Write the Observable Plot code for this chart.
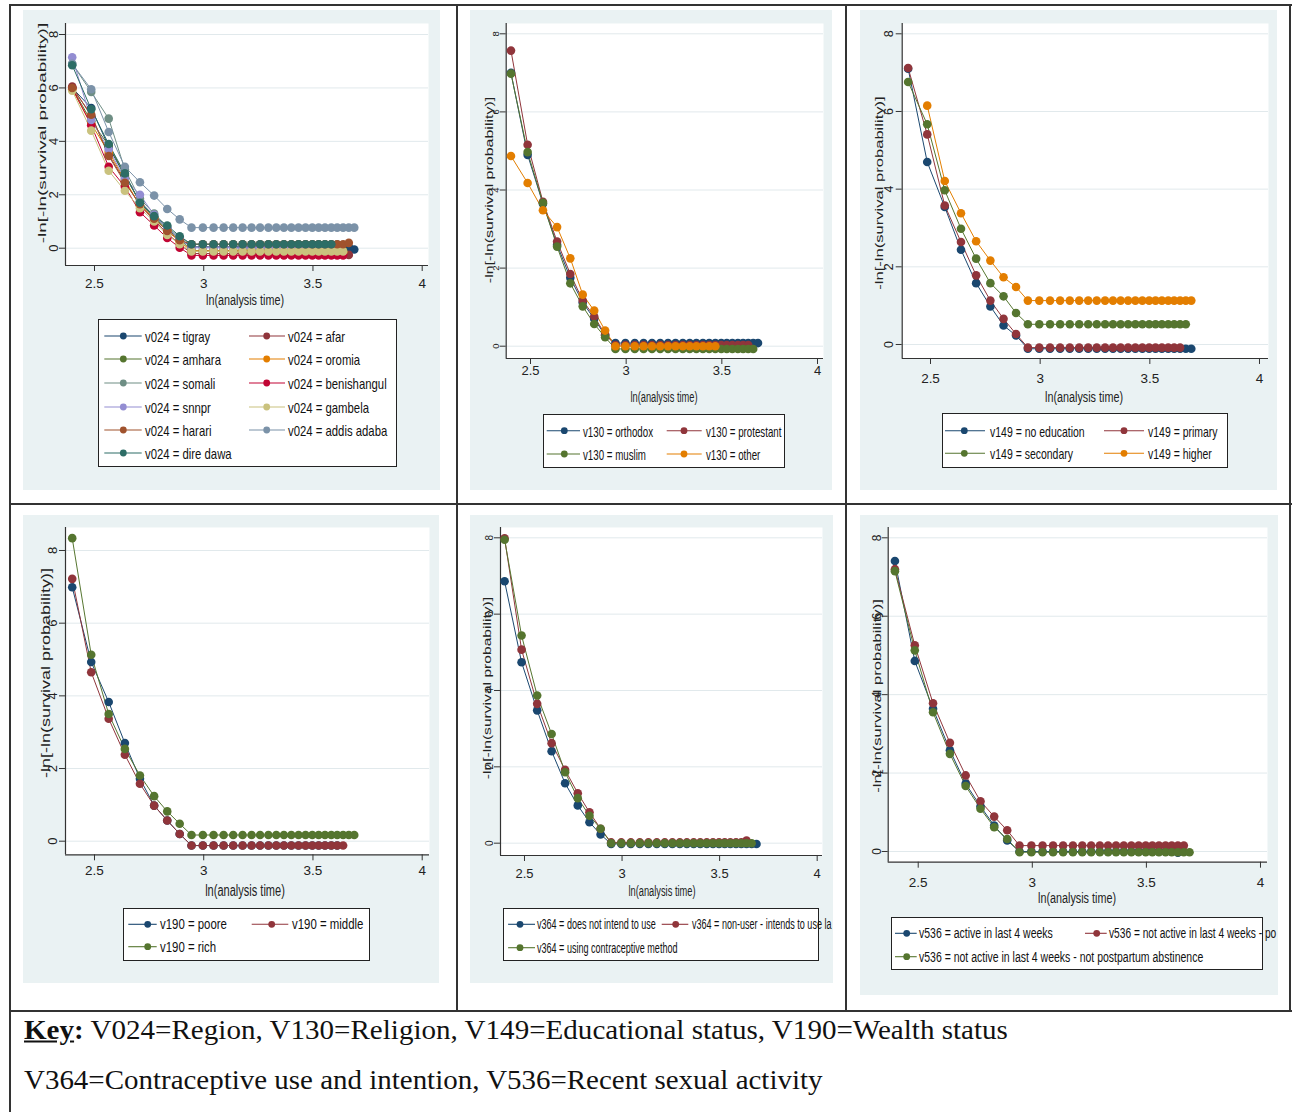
<!DOCTYPE html>
<html><head><meta charset="utf-8">
<script src="https://cdn.jsdelivr.net/npm/d3@7"></script>
<script src="https://cdn.jsdelivr.net/npm/@observablehq/plot@0.6"></script>
<style>
body{margin:0;background:#fff;}
#page{position:relative;width:1292px;height:1112px;overflow:hidden;background:#fff;font-family:"Liberation Sans Narrow","Liberation Sans",Arial,sans-serif;color:#111;}
.bg{position:absolute;background:#eaf2f3;overflow:hidden;}
.abs{position:absolute;white-space:nowrap;}
.line{position:absolute;background:#333;}
.key{position:absolute;white-space:nowrap;font-family:"Liberation Serif","Times New Roman",serif;font-size:27px;color:#111;transform-origin:left center;}
</style></head><body><div id="page"></div>
<script>
// ---------- shared axis data ----------
const lnTime = [2.398,2.485,2.565,2.639,2.708,2.773,2.833,2.890,2.944,2.996,3.045,3.091,3.135,3.178,3.219,3.258,3.296,3.332,3.367,3.401,3.434,3.466,3.497,3.526,3.555,3.584,3.611,3.638,3.664,3.689];
const xTickValues = [2.5, 3, 3.5, 4];
const xTickLabels = ["2.5", "3", "3.5", "4"];
const yTickValues = [0, 2, 4, 6, 8];
const xTitleText = "ln(analysis time)";
const yTitleText = "-ln[-ln(survival probability)]";

// ---------- panel 1: v024 region ----------
const regionLabels = ["v024 = tigray","v024 = afar","v024 = amhara","v024 = oromia","v024 = somali","v024 = benishangul","v024 = snnpr","v024 = gambela","v024 = harari","v024 = addis adaba","v024 = dire dawa"];
const regionColors = ["#1a476f","#90353b","#55752f","#e37e00","#6e8e84","#c10534","#938dd2","#cac27e","#a0522d","#7b92a8","#2d6d66"];
const tigray = [6.00,5.25,3.80,2.70,1.75,1.20,0.75,0.35, 0.05,0.05,0.05,0.05,0.05,0.05,0.05,0.05,0.05,0.05,0.05,0.05,0.05,0.05,0.05,0.05,0.05,0.05,0.05,0.05,0.05,-0.05];
const afar = [6.05,4.95,3.50,2.50,1.60,1.05,0.55,0.15, -0.20,-0.20,-0.20,-0.20,-0.20,-0.20,-0.20,-0.20,-0.20,-0.20,-0.20,-0.20,-0.20,-0.20,-0.20,-0.20,-0.20,-0.20,-0.20,-0.20,-0.25,null];
const amhara = [6.00,4.75,3.85,2.75,1.70,1.15,0.70,0.35, -0.10,-0.10,-0.10,-0.10,-0.10,-0.10,-0.10,-0.10,-0.10,-0.10,-0.10,-0.10,-0.10,-0.10,-0.10,-0.10,-0.10,-0.10,-0.10,-0.10,null,null];
const oromia = [5.95,4.65,3.60,2.55,1.60,1.10,0.65,0.25, -0.10,-0.10,-0.10,-0.10,-0.10,-0.10,-0.10,-0.10,-0.10,-0.10,-0.10,-0.10,-0.10,-0.10,-0.10,-0.10,-0.10,-0.10,-0.10,-0.15,null,null];
const somali = [6.90,5.85,4.85,2.95,1.85,1.30,0.80,0.40, 0.15,0.15,0.15,0.15,0.15,0.15,0.15,0.15,0.15,0.15,0.15,0.15,0.15,0.15,0.15,0.15,0.15,0.15,0.15,null,null,null];
const benishangul = [6.00,4.60,3.05,2.30,1.35,0.85,0.38,0.02, -0.27,-0.27,-0.27,-0.27,-0.27,-0.27,-0.27,-0.27,-0.27,-0.27,-0.27,-0.27,-0.27,-0.27,-0.27,-0.27,-0.27,-0.27,-0.27,-0.27,null,null];
const snnpr = [7.15,4.80,3.70,2.60,2.00,1.25,0.75,0.35, 0.02,0.02,0.02,0.02,0.02,0.02,0.02,0.02,0.02,0.02,0.02,0.02,0.02,0.02,0.02,0.02,0.02,0.02,0.02,null,null,null];
const gambela = [5.90,4.40,2.90,2.15,1.50,1.00,0.50,0.15, -0.12,-0.12,-0.12,-0.12,-0.12,-0.12,-0.12,-0.12,-0.12,-0.12,-0.12,-0.12,-0.12,-0.12,-0.12,-0.12,-0.12,-0.12,-0.12,-0.12,null,null];
const harari = [6.00,5.00,3.45,2.45,1.65,1.10,0.65,0.30, 0.15,0.15,0.15,0.15,0.15,0.15,0.15,0.15,0.15,0.15,0.15,0.15,0.15,0.15,0.15,0.15,0.15,0.15,0.15,0.15,0.20,null];
const addisAdaba = [6.90,5.95,4.35,3.05,2.47,1.97,1.47,1.08, 0.77,0.77,0.77,0.77,0.77,0.77,0.77,0.77,0.77,0.77,0.77,0.77,0.77,0.77,0.77,0.77,0.77,0.77,0.77,0.77,0.77,0.77];
const direDawa = [6.85,5.20,3.90,2.80,1.70,1.20,0.85,0.45, 0.15,0.15,0.15,0.15,0.15,0.15,0.15,0.15,0.15,0.15,0.15,0.15,0.15,0.15,0.15,0.15,0.15,0.15,null,null,null,null];

// ---------- panel 2: v130 religion ----------
const religionLabels = ["v130 = orthodox","v130 = protestant","v130 = muslim","v130 = other"];
const religionColors = ["#1a476f","#90353b","#55752f","#e37e00"];
const orthodox = [7.00,4.90,3.65,2.60,1.75,1.12,0.70,0.28, 0.08,0.08,0.08,0.08,0.08,0.08,0.08,0.08,0.08,0.08,0.08,0.08,0.08,0.08,0.08,0.08,0.08,0.08,0.08,0.08,0.08,0.08];
const protestant = [7.57,5.16,3.70,2.68,1.85,1.17,0.76,0.30, 0.03,0.03,0.03,0.03,0.03,0.03,0.03,0.03,0.03,0.03,0.03,0.03,0.03,0.03,0.03,0.03,0.03,0.03,0.03,0.03,null,null];
const muslim = [6.98,4.97,3.67,2.55,1.61,1.02,0.57,0.23, -0.07,-0.07,-0.07,-0.07,-0.07,-0.07,-0.07,-0.07,-0.07,-0.07,-0.07,-0.07,-0.07,-0.07,-0.07,-0.07,-0.07,-0.07,-0.07,-0.07,-0.07,null];
const otherReligion = [4.87,4.18,3.48,3.05,2.25,1.32,0.91,0.40, 0.00,0.00,0.00,0.00,0.00,0.00,0.00,0.00,0.00,0.00,0.00,0.00,0.00,0.00,null,null,null,null,null,null,null,null];

// ---------- panel 3: v149 education ----------
const educationLabels = ["v149 = no education","v149 = primary","v149 = secondary","v149 = higher"];
const educationColors = ["#1a476f","#90353b","#55752f","#e37e00"];
const noEducation = [7.10,4.70,3.54,2.44,1.58,0.98,0.49,0.23, -0.11,-0.11,-0.11,-0.11,-0.11,-0.11,-0.11,-0.11,-0.11,-0.11,-0.11,-0.11,-0.11,-0.11,-0.11,-0.11,-0.11,-0.11,-0.11,-0.11,-0.11,-0.11];
const primary = [7.12,5.41,3.58,2.64,1.78,1.13,0.66,0.27, -0.08,-0.08,-0.08,-0.08,-0.08,-0.08,-0.08,-0.08,-0.08,-0.08,-0.08,-0.08,-0.08,-0.08,-0.08,-0.08,-0.08,-0.08,-0.08,-0.08,null,null];
const secondary = [6.76,5.67,3.97,2.98,2.21,1.58,1.24,0.81, 0.52,0.52,0.52,0.52,0.52,0.52,0.52,0.52,0.52,0.52,0.52,0.52,0.52,0.52,0.52,0.52,0.52,0.52,0.52,0.52,0.52,null];
const higher = [null,6.15,4.21,3.38,2.66,2.16,1.73,1.48, 1.13,1.13,1.13,1.13,1.13,1.13,1.13,1.13,1.13,1.13,1.13,1.13,1.13,1.13,1.13,1.13,1.13,1.13,1.13,1.13,1.13,1.13];

// ---------- panel 4: v190 wealth ----------
const wealthLabels = ["v190 = poore","v190 = middle","v190 = rich"];
const wealthColors = ["#1a476f","#90353b","#55752f"];
const poorer = [6.99,4.93,3.83,2.70,1.72,0.98,0.57,0.20, -0.12,-0.12,-0.12,-0.12,-0.12,-0.12,-0.12,-0.12,-0.12,-0.12,-0.12,-0.12,-0.12,-0.12,-0.12,-0.12,-0.12,-0.12,-0.12,null,null,null];
const middle = [7.22,4.65,3.37,2.38,1.58,0.98,0.57,0.20, -0.12,-0.12,-0.12,-0.12,-0.12,-0.12,-0.12,-0.12,-0.12,-0.12,-0.12,-0.12,-0.12,-0.12,-0.12,-0.12,-0.12,-0.12,-0.12,-0.12,null,null];
const rich = [8.34,5.13,3.50,2.54,1.81,1.24,0.82,0.48, 0.17,0.17,0.17,0.17,0.17,0.17,0.17,0.17,0.17,0.17,0.17,0.17,0.17,0.17,0.17,0.17,0.17,0.17,0.17,0.17,0.17,0.17];

// ---------- panel 5: v364 contraception ----------
const contraLabels = ["v364 = does not intend to use","v364 = non-user - intends to use la","v364 = using contraceptive method"];
const contraColors = ["#1a476f","#90353b","#55752f"];
const notIntend = [6.86,4.74,3.48,2.41,1.57,0.99,0.55,0.23, -0.02,-0.02,-0.02,-0.02,-0.02,-0.02,-0.02,-0.02,-0.02,-0.02,-0.02,-0.02,-0.02,-0.02,-0.02,-0.02,-0.02,-0.02,-0.02,-0.02,-0.02,-0.02];
const intendsLater = [7.99,5.07,3.65,2.62,1.92,1.31,0.81,0.38, 0.02,0.02,0.02,0.02,0.02,0.02,0.02,0.02,0.02,0.02,0.02,0.02,0.02,0.02,0.02,0.02,0.02,0.02,0.02,0.07,null,null];
const usingMethod = [7.95,5.44,3.87,2.86,1.86,1.18,0.72,0.38, 0.00,0.00,0.00,0.00,0.00,0.00,0.00,0.00,0.00,0.00,0.00,0.00,0.00,0.00,0.00,0.00,0.00,0.00,0.00,0.00,0.00,null];

// ---------- panel 6: v536 sexual activity ----------
const activityLabels = ["v536 = active in last 4 weeks","v536 = not active in last 4 weeks - po","v536 = not active in last 4 weeks - not postpartum abstinence"];
const activityColors = ["#1a476f","#90353b","#55752f"];
const activeLast4 = [7.41,4.86,3.64,2.58,1.73,1.15,0.66,0.28, 0.00,0.00,0.00,0.00,0.00,0.00,0.00,0.00,0.00,0.00,0.00,0.00,0.00,0.00,0.00,0.00,0.00,0.00,0.00,-0.03,null,null];
const postpartum = [7.20,5.26,3.78,2.77,1.94,1.28,0.89,0.54, 0.15,0.15,0.15,0.15,0.15,0.15,0.15,0.15,0.15,0.15,0.15,0.15,0.15,0.15,0.15,0.15,0.15,0.15,0.15,0.15,0.15,null];
const notPostpartum = [7.15,5.13,3.55,2.49,1.67,1.09,0.62,0.32, -0.02,-0.02,-0.02,-0.02,-0.02,-0.02,-0.02,-0.02,-0.02,-0.02,-0.02,-0.02,-0.02,-0.02,-0.02,-0.02,-0.02,-0.02,-0.02,-0.02,-0.02,-0.02];

// ---------- key text ----------
const keyLine1Rest = " V024=Region, V130=Religion, V149=Educational status, V190=Wealth status";
const keyLine2 = "V364=Contraceptive use and intention, V536=Recent sexual activity";

// ---------- layout (page pixel geometry) ----------
const panels = [
 {labels: regionLabels, colors: regionColors, series: [tigray,afar,amhara,oromia,somali,benishangul,snnpr,gambela,harari,addisAdaba,direDawa],
  bg:[23,10,440,490], plot:[65,23,428,265], xcal:[94,421.7], ycal:[247.7,34], xTickOff:18, yTickOff:12.3, xTickFont:13.5, yTickFont:13,
  xTitle:[245,300,78], xTitleFont:15.5, yTitle:[42,133,220], yTitleFont:11.5,
  legend:{box:[98,319,397,467], rows:[336,359,383,407,430,453], cols:[[104.3,141.7,123.3,145],[249,285,266.7,288]], fit:65, font:15}},
 {labels: religionLabels, colors: religionColors, series: [orthodox,protestant,muslim,otherReligion],
  bg:[470,10,832,490], plot:[505.7,23,823,358], xcal:[530,817], ycal:[345.7,33.3], xTickOff:12, yTickOff:10.7, xTickFont:13, yTickFont:9.5,
  xTitle:[664,397,67], xTitleFont:14, yTitle:[489,190,187], yTitleFont:10.5,
  legend:{box:[543.3,414,785,468.3], rows:[430.7,454], cols:[[546.7,580,564.3,583.3],[666.7,701.7,684,706]], fit:70, font:15}},
 {labels: educationLabels, colors: educationColors, series: [noEducation,primary,secondary,higher],
  bg:[860,10,1277.3,490], plot:[901.7,23,1268,358], xcal:[930,1259], ycal:[344,33.3], xTickOff:20, yTickOff:13.3, xTickFont:13.5, yTickFont:12.5,
  xTitle:[1084,397,78], xTitleFont:15.5, yTitle:[879,193,193], yTitleFont:11.5,
  legend:{box:[941.7,413.3,1227.7,468.3], rows:[430.7,453.3], cols:[[945,985,964.3,990],[1104,1144,1124,1148.3]], fit:95, font:15}},
 {labels: wealthLabels, colors: wealthColors, series: [poorer,middle,rich],
  bg:[23,515,439.3,982.7], plot:[65,527,429,854.3], xcal:[94,421.7], ycal:[840.7,550], xTickOff:15.7, yTickOff:13.3, xTickFont:13.5, yTickFont:13,
  xTitle:[245,891,80], xTitleFont:16, yTitle:[45.5,673,210], yTitleFont:12,
  legend:{box:[123.3,908.3,370,961], rows:[924.3,946.7], cols:[[128.3,156.7,147.7,160],[251.7,288.3,271.7,292.3]], fit:67, font:15.5}},
 {labels: contraLabels, colors: contraColors, series: [notIntend,intendsLater,usingMethod],
  bg:[470,515,832.7,983], plot:[500,527,822,855], xcal:[524,816.7], ycal:[842.7,537.3], xTickOff:18, yTickOff:10.7, xTickFont:13, yTickFont:10,
  xTitle:[662,891,67], xTitleFont:14, yTitle:[486.7,688,183], yTitleFont:10.5,
  legend:{box:[503.3,908.3,819.3,961], rows:[924.3,947.7], cols:[[508,535,520,537.3],[661.7,688.3,675.7,691.7]], fit:119, font:15.5}},
 {labels: activityLabels, colors: activityColors, series: [activeLast4,postpartum,notPostpartum],
  bg:[860,515,1278.3,995], plot:[887.7,527,1267,861.7], xcal:[917.7,1260], ycal:[851,537.3], xTickOff:20, yTickOff:11.7, xTickFont:13.5, yTickFont:12,
  xTitle:[1077,898,78], xTitleFont:15.5, yTitle:[876.7,696,193], yTitleFont:11,
  legend:{box:[891,916.7,1263.3,970], rows:[933.3,956.7], cols:[[895,916.7,906.7,919.3],[1085,1106.7,1096.7,1109.3]], fit:134, font:15.5}}
];

const page = document.getElementById("page");
const narrow = '"Liberation Sans Narrow","Liberation Sans",Arial,sans-serif';

function addLine(x, y, w, h) {
  const d = document.createElement("div");
  d.className = "line";
  Object.assign(d.style, {left: x + "px", top: y + "px", width: w + "px", height: h + "px"});
  page.appendChild(d);
}

function renderPanel(P) {
  const [bx0, by0, bx1, by1] = P.bg;
  const [px0, py0, px1, py1] = P.plot;
  const bw = bx1 - bx0;
  const ux = (P.xcal[1] - P.xcal[0]) / (xTickValues[3] - xTickValues[0]);
  const uy = (P.ycal[0] - P.ycal[1]) / (yTickValues[4] - yTickValues[0]);
  const xd = [xTickValues[0] - (P.xcal[0] - px0) / ux, xTickValues[0] + (px1 - P.xcal[0]) / ux];
  const yd = [-(py1 - P.ycal[0]) / uy, (P.ycal[0] - py0) / uy];

  const bg = document.createElement("div");
  bg.className = "bg";
  Object.assign(bg.style, {left: bx0 + "px", top: by0 + "px", width: bw + "px", height: (by1 - by0) + "px"});
  page.appendChild(bg);

  const rows = [];
  P.labels.forEach((name, i) => P.series[i].forEach((v, j) => {
    if (v != null) rows.push({series: name, x: lnTime[j], y: v});
  }));

  const tickSize = 6;
  const svg = Plot.plot({
    width: bw,
    height: py1 - by0 + 40,
    marginLeft: px0 - bx0,
    marginRight: bx1 - px1,
    marginTop: py0 - by0,
    marginBottom: 40,
    x: {domain: xd},
    y: {domain: yd},
    color: {domain: P.labels, range: P.colors},
    style: {background: "transparent", fontFamily: narrow, color: "#222", overflow: "visible"},
    marks: [
      Plot.frame({fill: "white", stroke: null}),
      Plot.gridY(yTickValues, {stroke: "#e1e9ec", strokeOpacity: 1, strokeWidth: 1}),
      Plot.axisX(xTickValues, {tickSize, tickPadding: P.xTickOff - tickSize - P.xTickFont * 0.36, fontSize: P.xTickFont, label: null, stroke: "#333",
        tickFormat: d => xTickLabels[xTickValues.indexOf(d)]}),
      Plot.axisY(yTickValues, {tickSize, tickRotate: -90, tickPadding: P.yTickOff - tickSize - P.yTickFont * 0.36, fontSize: P.yTickFont, label: null, stroke: "#333"}),
      Plot.ruleX([xd[0]], {stroke: "#333", strokeWidth: 1.2}),
      Plot.ruleY([yd[0]], {stroke: "#333", strokeWidth: 1.2}),
      Plot.line(rows, {x: "x", y: "y", z: "series", stroke: "series", strokeWidth: 1}),
      Plot.dot(rows, {x: "x", y: "y", fill: "series", r: 4.3})
    ]
  });
  svg.style.position = "absolute";
  svg.style.left = "0px";
  svg.style.top = "0px";
  bg.appendChild(svg);

  // axis titles
  const xt = document.createElement("div");
  xt.className = "abs";
  xt.textContent = xTitleText;
  Object.assign(xt.style, {fontSize: P.xTitleFont + "px", fontFamily: narrow, color: "#222", left: (P.xTitle[0] - bx0) + "px", top: (P.xTitle[1] - by0) + "px"});
  bg.appendChild(xt);
  const sx = P.xTitle[2] / xt.offsetWidth;
  xt.style.transform = `translate(-50%,-50%) scale(${sx},1)`;

  const yt = document.createElement("div");
  yt.className = "abs";
  yt.textContent = yTitleText;
  Object.assign(yt.style, {fontSize: P.yTitleFont + "px", fontFamily: '"Liberation Sans",Arial,sans-serif', color: "#222", left: (P.yTitle[0] - bx0) + "px", top: (P.yTitle[1] - by0) + "px"});
  bg.appendChild(yt);
  const sy = P.yTitle[2] / yt.offsetWidth;
  yt.style.transform = `translate(-50%,-50%) rotate(-90deg) scale(${sy},1)`;

  // legend
  const Lg = P.legend;
  const box = document.createElement("div");
  Object.assign(box.style, {position: "absolute", boxSizing: "border-box", background: "#fff", border: "1.3px solid #222",
    left: (Lg.box[0] - bx0) + "px", top: (Lg.box[1] - by0) + "px", width: (Lg.box[2] - Lg.box[0]) + "px", height: (Lg.box[3] - Lg.box[1]) + "px"});
  bg.appendChild(box);
  const ns = "http://www.w3.org/2000/svg";
  const sw = document.createElementNS(ns, "svg");
  sw.setAttribute("width", bw);
  sw.setAttribute("height", by1 - by0);
  Object.assign(sw.style, {position: "absolute", left: "0px", top: "0px", overflow: "visible"});
  bg.appendChild(sw);
  let scale = null;
  P.labels.forEach((name, i) => {
    const c = Lg.cols[i % 2], ry = Lg.rows[Math.floor(i / 2)] - by0;
    const ln = document.createElementNS(ns, "line");
    ln.setAttribute("x1", c[0] - bx0); ln.setAttribute("x2", c[1] - bx0);
    ln.setAttribute("y1", ry); ln.setAttribute("y2", ry);
    ln.setAttribute("stroke", P.colors[i]); ln.setAttribute("stroke-width", 1.1);
    sw.appendChild(ln);
    const ci = document.createElementNS(ns, "circle");
    ci.setAttribute("cx", c[2] - bx0); ci.setAttribute("cy", ry); ci.setAttribute("r", 3.4);
    ci.setAttribute("fill", P.colors[i]);
    sw.appendChild(ci);
    const t = document.createElement("div");
    t.className = "abs";
    t.textContent = name;
    const left = c[3] - bx0;
    Object.assign(t.style, {fontSize: Lg.font + "px", fontFamily: narrow, color: "#111", left: left + "px", top: ry + "px", transformOrigin: "left center"});
    bg.appendChild(t);
    if (scale === null) scale = Lg.fit / t.offsetWidth;
    let s = scale;
    if (left + t.offsetWidth * s > bw - 1.5) s = (bw - 1.5 - left) / t.offsetWidth;
    t.style.transform = `translateY(-50%) scale(${s},1)`;
  });
}

panels.forEach(renderPanel);

// table borders
addLine(10, 4, 1282, 2);
addLine(9, 4, 2, 1108);
addLine(456, 4, 2, 1008);
addLine(845, 4, 2, 1008);
addLine(1289, 4, 2, 1008);
addLine(10, 503, 1282, 2);
addLine(10, 1010, 1282, 2);

// key
const k1 = document.createElement("div");
k1.className = "key";
k1.innerHTML = '<b><u>Key</u>:</b>';
k1.appendChild(document.createTextNode(keyLine1Rest));
Object.assign(k1.style, {left: "24px", top: "1030px"});
page.appendChild(k1);
k1.style.transform = `translateY(-50%) scale(${984 / k1.offsetWidth},1)`;
const k2 = document.createElement("div");
k2.className = "key";
k2.textContent = keyLine2;
Object.assign(k2.style, {left: "24px", top: "1080px"});
page.appendChild(k2);
k2.style.transform = `translateY(-50%) scale(${799 / k2.offsetWidth},1)`;
</script></body></html>
